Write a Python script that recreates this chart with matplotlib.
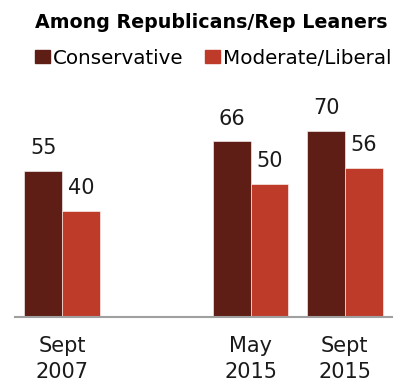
import numpy as np
import matplotlib
matplotlib.use("Agg")
import matplotlib.pyplot as plt
from matplotlib.patches import Patch

# Share of Republicans/Rep leaners, by ideology
periodos = ["Sept\n2007", "May\n2015", "Sept\n2015"]
posicoes = [0, 2, 3]  # 2007 sits further left to show the time gap
conservador = [55, 66, 70]
moderado = [40, 50, 56]

cor_cons = "#5E1E16"
cor_mod = "#BE3B2A"

plt.rcParams['font.family'] = ['DejaVu Sans']

fig = plt.figure(figsize=(4.05, 3.85), dpi=100)
ax = fig.add_axes([15 / 405, 1 - 316.7 / 385, 377 / 405, 212.4 / 385])

largura = 0.4
x = np.array(posicoes, dtype=float)
b1 = ax.bar(x - largura / 2, conservador, largura, color=cor_cons, edgecolor="white", linewidth=0.4)
b2 = ax.bar(x + largura / 2, moderado, largura, color=cor_mod, edgecolor="white", linewidth=0.4)

for barras, vals in [(b1, conservador), (b2, moderado)]:
    for b, v in zip(barras, vals):
        ax.annotate(str(v), (b.get_x() + b.get_width() / 2, v), xytext=(0, 12),
                    textcoords="offset points", ha="center", va="baseline", fontsize=15, color="#1a1a1a")

ax.set_xlim(-0.5, 3.5)
ax.set_ylim(0, 80)
ax.set_xticks(x)
ax.set_xticklabels(periodos, fontsize=15, linespacing=1.36, color="#1a1a1a")
ax.tick_params(axis="x", length=0, pad=14)
ax.set_yticks([])
for lado in ["top", "right", "left"]:
    ax.spines[lado].set_visible(False)
ax.spines["bottom"].set_color("#A0A0A0")
ax.spines["bottom"].set_linewidth(1.5)

fig.text(35 / 405, 1 - 27.5 / 385, "Among Republicans/Rep Leaners", fontsize=13.7,
         fontweight="bold", ha="left", va="baseline")

legenda = [Patch(color=cor_cons, label="Conservative"), Patch(color=cor_mod, label="Moderate/Liberal")]
fig.legend(handles=legenda, loc="center left", bbox_to_anchor=(35 / 405, 1 - 58 / 385), ncol=2,
           frameon=False, fontsize=14.3, handlelength=0.77, handleheight=0.67, handletextpad=0.15,
           columnspacing=1.05, borderaxespad=0, borderpad=0)

fig.savefig("out.png", dpi=100)
